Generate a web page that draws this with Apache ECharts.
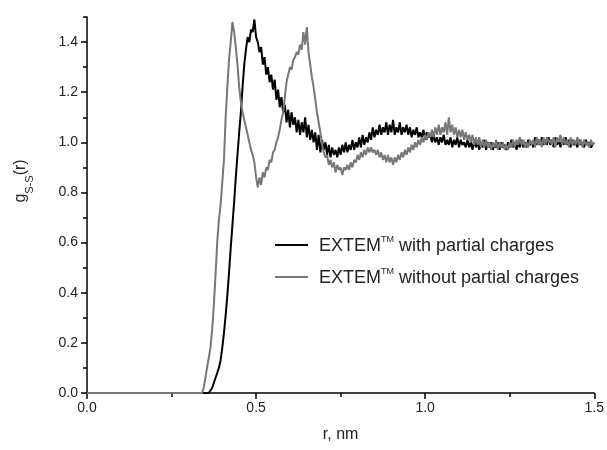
<!DOCTYPE html>
<html>
<head>
<meta charset="utf-8">
<script src="https://cdn.jsdelivr.net/npm/echarts@6/dist/echarts.min.js"></script>
<style>html,body{margin:0;padding:0;background:#fff}#c{width:607px;height:450px}</style>
</head>
<body>
<div id="c"></div>
<script>
// r grid (nm): first point at 0, then 0.330 .. 1.500 every 0.005
var rStart = 0.330, rStep = 0.005;
var withCharges = [0,
0,0,0,0,0,0,0,0,0.02,0.04,0.06,0.08,0.10,0.13,0.18,0.24,0.31,0.39,0.48,0.58,
0.67,0.76,0.86,0.95,1.04,1.12,1.22,1.31,1.37,1.42,1.40,1.45,1.44,1.49,1.42,1.40,1.36,1.38,1.31,1.34,
1.27,1.30,1.24,1.27,1.21,1.25,1.17,1.21,1.14,1.18,1.12,1.15,1.08,1.13,1.06,1.12,1.07,1.10,1.04,1.09,
1.03,1.08,1.04,1.10,1.02,1.07,1.01,1.05,1.00,1.04,0.97,1.03,0.96,1.01,0.97,1.00,0.95,0.99,0.94,0.98,
0.95,0.97,0.94,0.98,0.95,0.99,0.96,1.00,0.96,0.99,0.97,1.01,0.97,1.00,0.98,1.02,0.98,1.03,0.99,1.02,
1.00,1.04,1.01,1.06,1.02,1.05,1.03,1.07,1.03,1.06,1.04,1.08,1.03,1.07,1.04,1.09,1.03,1.06,1.04,1.08,
1.03,1.06,1.04,1.07,1.03,1.06,1.02,1.05,1.03,1.06,1.02,1.04,1.02,1.05,1.01,1.04,1.02,1.03,1.00,1.03,
1.00,1.02,0.99,1.02,1.00,1.03,0.99,1.01,0.99,1.02,0.98,1.01,0.99,1.02,0.98,1.01,0.99,1.00,0.98,1.01,
0.98,1.00,0.97,1.01,0.98,1.00,0.97,1.00,0.98,1.01,0.97,1.00,0.98,1.00,0.97,0.99,0.98,1.00,0.97,1.00,
0.98,0.99,0.97,1.00,0.98,1.01,0.98,1.00,0.97,1.00,0.98,1.01,0.98,1.00,0.98,1.01,0.99,1.00,0.98,1.02,
0.99,1.01,0.99,1.02,0.99,1.01,0.99,1.02,0.99,1.01,0.98,1.02,0.99,1.01,0.98,1.01,0.99,1.02,0.99,1.01,
0.98,1.01,0.99,1.00,0.98,1.01,0.99,1.00,0.98,1.01,0.99,1.00,0.98,0.99];
var withoutCharges = [0,
0,0,0,0.02,0.06,0.10,0.14,0.18,0.25,0.35,0.47,0.60,0.69,0.75,0.84,0.93,1.10,1.22,1.33,1.40,
1.48,1.44,1.38,1.31,1.22,1.16,1.12,1.09,1.06,1.03,1.00,0.97,0.95,0.92,0.86,0.82,0.86,0.83,0.88,0.86,
0.90,0.89,0.93,0.92,0.96,0.97,1.00,1.02,1.05,1.09,1.12,1.18,1.24,1.27,1.30,1.29,1.33,1.34,1.36,1.35,
1.39,1.37,1.44,1.39,1.46,1.36,1.31,1.26,1.22,1.17,1.12,1.08,1.04,0.99,0.96,0.94,0.95,0.91,0.93,0.90,
0.92,0.88,0.91,0.89,0.90,0.87,0.90,0.89,0.91,0.89,0.92,0.90,0.93,0.92,0.95,0.93,0.96,0.94,0.97,0.95,
0.98,0.96,0.98,0.96,0.97,0.95,0.97,0.94,0.96,0.93,0.95,0.92,0.95,0.92,0.94,0.91,0.94,0.92,0.95,0.93,
0.96,0.94,0.97,0.95,0.98,0.96,0.99,0.97,1.00,0.98,1.01,0.99,1.02,1.00,1.03,1.01,1.04,1.02,1.05,1.02,
1.06,1.03,1.07,1.03,1.06,1.04,1.08,1.03,1.10,1.04,1.07,1.03,1.06,1.02,1.05,1.02,1.05,1.01,1.04,1.01,
1.03,1.00,1.03,0.99,1.02,0.99,1.02,0.98,1.01,0.98,1.01,0.98,1.00,0.97,1.00,0.98,1.01,0.97,1.00,0.98,
1.00,0.97,0.99,0.97,1.00,0.98,1.01,0.98,1.01,0.99,1.02,0.99,1.01,0.98,1.00,0.98,1.01,0.99,1.01,0.98,
1.02,0.99,1.01,0.98,1.02,0.99,1.02,1.00,1.01,0.99,1.02,0.98,1.02,1.00,1.03,0.99,1.02,0.99,1.01,0.98,
1.02,0.99,1.01,0.99,1.02,0.99,1.01,0.98,1.01,0.99,1.00,0.98,1.01,0.99,1.00];
var seriesNames = ['with partial charges', 'without partial charges'];
var yMajor = [0, 0.2, 0.4, 0.6, 0.8, 1.0, 1.2, 1.4];
var yMinor = [0.1, 0.3, 0.5, 0.7, 0.9, 1.1, 1.3, 1.5];

function toPairs(vals) {
  var out = [];
  for (var i = 0; i < vals.length; i++) {
    var r = i === 0 ? 0 : +(rStart + (i - 1) * rStep).toFixed(3);
    out.push([r, vals[i]]);
  }
  return out;
}

var FONT = 'Liberation Sans, Arial, sans-serif';
var chart = echarts.init(document.getElementById('c'), null, {renderer: 'canvas'});
chart.setOption({
  animation: false,
  backgroundColor: '#fff',
  grid: {left: 87, right: 11, top: 17, bottom: 57, containLabel: false},
  graphic: [{
    type: 'text', x: 24, y: 181, rotation: Math.PI / 2,
    style: {
      text: '{g|g}{sub|S-S}{g|(r)}', align: 'center', verticalAlign: 'middle',
      fontFamily: FONT, fill: '#222',
      rich: {
        g: {fontSize: 16, fontFamily: FONT, fill: '#222', verticalAlign: 'top', lineHeight: 22},
        sub: {fontSize: 11, fontFamily: FONT, fill: '#222', verticalAlign: 'bottom', lineHeight: 22, padding: [9, 0, 0, 0]}
      }
    }
  }],
  legend: {
    orient: 'vertical',
    left: 270, top: 230,
    itemWidth: 33, itemHeight: 2, itemGap: 12,
    icon: 'rect',
    data: seriesNames,
    formatter: function (n) { return '{a|EXTEM}{s|TM}{a| ' + n + '}'; },
    textStyle: {
      fontFamily: FONT, color: '#222', padding: [0, 0, 0, 6],
      rich: {
        a: {fontSize: 18, fontFamily: FONT, color: '#222', verticalAlign: 'bottom', lineHeight: 20},
        s: {fontSize: 9, fontFamily: FONT, color: '#222', verticalAlign: 'top', lineHeight: 20, padding: [0, 0, 9, 0]}
      }
    }
  },
  xAxis: {
    type: 'value', min: 0, max: 1.5, interval: 0.5,
    name: 'r, nm', nameLocation: 'middle', nameGap: 34,
    nameTextStyle: {fontFamily: FONT, fontSize: 16, color: '#222'},
    axisLine: {show: true, onZero: false, lineStyle: {color: '#000', width: 1.5}},
    axisTick: {show: true, inside: false, length: 6, lineStyle: {color: '#000', width: 1.5}},
    minorTick: {show: true, splitNumber: 2, length: 4, lineStyle: {color: '#000', width: 1.5}},
    axisLabel: {fontFamily: FONT, fontSize: 14, color: '#222', margin: 8,
      formatter: function (v) { return v.toFixed(1); }},
    splitLine: {show: false}, minorSplitLine: {show: false}
  },
  yAxis: [{
    type: 'value', min: 0, max: 1.5,
    axisLine: {show: true, onZero: false, lineStyle: {color: '#000', width: 1.5}},
    axisTick: {show: true, inside: false, length: 6, customValues: yMajor, lineStyle: {color: '#000', width: 1.5}},
    axisLabel: {fontFamily: FONT, fontSize: 14, color: '#222', margin: 9, customValues: yMajor,
      formatter: function (v) { return v.toFixed(1); }},
    splitLine: {show: false}
  }, {
    type: 'value', min: 0, max: 1.5, position: 'left',
    axisLine: {show: false},
    axisTick: {show: true, inside: false, length: 4, customValues: yMinor, lineStyle: {color: '#000', width: 1.5}},
    axisLabel: {show: false},
    splitLine: {show: false}
  }],
  series: [{
    name: seriesNames[0], type: 'line', showSymbol: false, symbol: 'none',
    data: toPairs(withCharges), z: 3,
    lineStyle: {color: '#000', width: 2}, itemStyle: {color: '#000'}
  }, {
    name: seriesNames[1], type: 'line', showSymbol: false, symbol: 'none',
    data: toPairs(withoutCharges), z: 4,
    lineStyle: {color: '#777', width: 2}, itemStyle: {color: '#777'}
  }]
});
</script>
</body>
</html>
